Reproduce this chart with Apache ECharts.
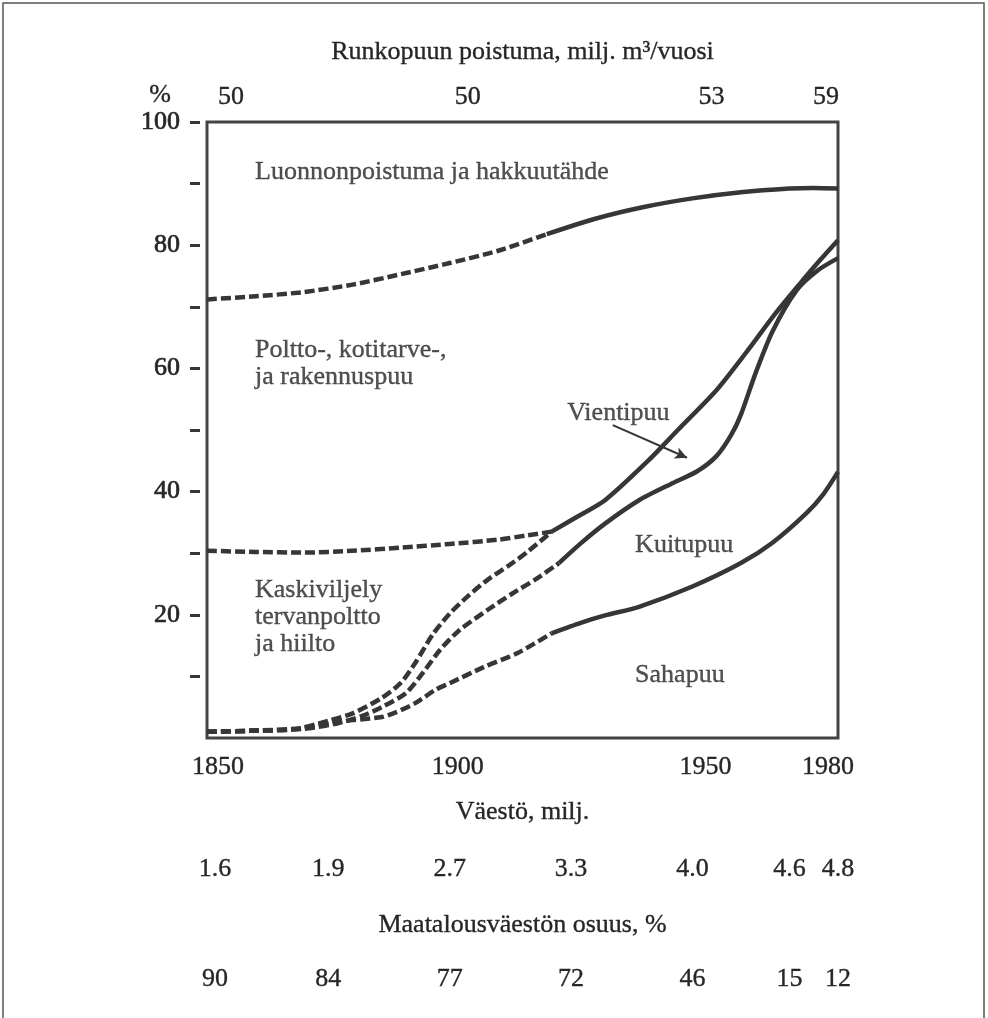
<!DOCTYPE html>
<html>
<head>
<meta charset="utf-8">
<script src="https://cdn.jsdelivr.net/npm/echarts@6/dist/echarts.min.js"></script>
<style>
  html, body { margin: 0; padding: 0; background: #fff; }
  #chart { width: 988px; height: 1018px; }
</style>
</head>
<body>
<div id="chart"></div>
<script>
// ---------- DATA ----------
const xTickYears = [1850, 1900, 1950, 1980];
const xTickLabels = ['1850', '1900', '1950', '1980'];
const runkoLabels = ['50', '50', '53', '59'];            // Runkopuun poistuma, milj. m3/vuosi
const popYears = [1850, 1875, 1900, 1925, 1950, 1970, 1980];
const popLabels = ['1.6', '1.9', '2.7', '3.3', '4.0', '4.6', '4.8'];   // Väestö, milj.
const agriLabels = ['90', '84', '77', '72', '46', '15', '12'];         // Maatalousväestön osuus, %
const yTickValues = [10, 20, 30, 40, 50, 60, 70, 80, 90, 100];
const yLabelValues = [20, 40, 60, 80, 100];

// boundary curves [year, %]
const luonnonRaja = [[1850,71.2],[1860,71.7],[1870,72.4],[1880,73.6],[1890,75.3],[1900,77.1],[1910,79.1],[1920,81.8],[1930,84.3],[1940,86.2],[1950,87.6],[1960,88.6],[1970,89.2],[1975,89.3],[1980,89.2]];
const luonnonSolidFrom = 1920;
const kaskiRaja = [[1850,30.4],[1860,30.2],[1870,30.1],[1880,30.4],[1890,30.9],[1900,31.5],[1910,32.2],[1916,32.9],[1921,33.5]];
const vientiRaja = [[1850,1.0],[1860,1.2],[1868,1.4],[1875,2.8],[1880,4.0],[1886,6.5],[1890,9.0],[1893,12.3],[1896.5,16.8],[1900,20.2],[1904,23.2],[1908,25.8],[1912,27.9],[1916,30.2],[1921,33.5],[1926,35.8],[1932,38.6],[1941,45.1],[1947,50.0],[1955,56.5],[1961,62.5],[1967,68.8],[1972,73.6],[1976,77.3],[1980,80.8]];
const vientiSolidFrom = 1921;
const kuituRaja = [[1850,1.0],[1860,1.2],[1870,1.5],[1877,2.4],[1882,3.6],[1886,5.0],[1891,7.3],[1894.5,10.6],[1898,14.3],[1902,17.5],[1908,20.9],[1913,23.5],[1918,25.9],[1922.5,28.4],[1927,31.6],[1932,34.8],[1939,38.6],[1946,41.4],[1951,43.3],[1955,45.8],[1958,49.2],[1960,52.5],[1963,59.2],[1966.5,66.0],[1971.5,72.7],[1976,76.0],[1980,77.9]];
const kuituSolidFrom = 1922.5;
const sahaRaja = [[1850,1.0],[1860,1.2],[1870,1.6],[1876,2.5],[1880,2.9],[1886,3.4],[1889,4.2],[1893,5.7],[1897,7.8],[1900,8.9],[1907,11.5],[1914,13.8],[1921,17.0],[1927,18.7],[1932,19.9],[1939,21.3],[1950,24.6],[1960,28.4],[1966.5,31.7],[1973.5,36.5],[1977,39.6],[1980,43.2]];
const sahaSolidFrom = 1921;

// region annotations [text, year, %]
const regionLabels = [
  ['Luonnonpoistuma ja hakkuutähde', 1859.9, 91.9],
  ['Poltto-, kotitarve-,\nja rakennuspuu', 1859.9, 60.8],
  ['Vientipuu', 1924.2, 52.8],
  ['Kaskiviljely\ntervanpoltto\nja hiilto', 1859.9, 19.6],
  ['Kuitupuu', 1938.2, 31.3],
  ['Sahapuu', 1938.2, 10.2]
];
const vientiArrow = [[1933.6, 50.8], [1948.9, 45.5]];

// ---------- STYLE ----------
const FONT = "'Liberation Serif', 'Times New Roman', serif";
const FS = 26;
const INK = '#363636';
const TXT = '#262626';
const bottomShift = {1850: 11, 1900: 8, 1950: 13, 1980: -10};
const topShift = {1850: 24, 1900: 18, 1950: 19, 1980: -12};
const rowShift = {1850: 8};

const baseText = { fontFamily: FONT, fontSize: FS, color: TXT, textBorderColor: TXT, textBorderWidth: 0.35 };

function richFor(shifts) {
  const r = {};
  Object.keys(shifts).forEach(k => {
    const dx = shifts[k];
    r['s' + k] = Object.assign({
      padding: dx > 0 ? [0, 0, 0, 2 * dx] : [0, -2 * dx, 0, 0]
    }, baseText);
  });
  return r;
}
function labeller(years, labels, shifts) {
  return function (v) {
    const i = years.indexOf(v);
    const t = i >= 0 ? labels[i] : '';
    return shifts[v] ? '{s' + v + '|' + t + '}' : t;
  };
}
function seg(data, split, solid) {
  return solid ? data.filter(d => d[0] >= split) : data.filter(d => d[0] <= split);
}
function lineSeries(data, dashed) {
  return {
    type: 'line', xAxisIndex: 0, yAxisIndex: 0, data: data,
    smooth: 0.25, showSymbol: false, symbol: 'none',
    silent: true, z: 3,
    lineStyle: { color: INK, width: 4.5, type: dashed ? [10, 4] : 'solid', cap: 'butt', join: 'round' }
  };
}

const option = {
  backgroundColor: '#fff',
  animation: false,
  grid: {
    left: 207, right: 150, top: 122, bottom: 280,
    containLabel: false, outerBoundsMode: 'none',
    show: true, borderColor: '#444', borderWidth: 3, backgroundColor: 'transparent'
  },
  xAxis: [
    { // bottom years
      type: 'value', min: 1850, max: 1980, position: 'bottom',
      axisLine: { show: false }, axisTick: { show: false }, splitLine: { show: false },
      axisLabel: Object.assign({ customValues: xTickYears, margin: 16,
        formatter: labeller(xTickYears, xTickLabels, bottomShift), rich: richFor(bottomShift) }, baseText),
      name: 'Väestö, milj.', nameLocation: 'middle', nameGap: 61, nameTextStyle: baseText
    },
    { // population row
      type: 'value', min: 1850, max: 1980, position: 'bottom', offset: 100,
      axisLine: { show: false }, axisTick: { show: false }, splitLine: { show: false },
      axisLabel: Object.assign({ customValues: popYears, margin: 18,
        formatter: labeller(popYears, popLabels, rowShift), rich: richFor(rowShift) }, baseText),
      name: 'Maatalousväestön osuus, %', nameLocation: 'middle', nameGap: 74, nameTextStyle: baseText
    },
    { // agricultural share row
      type: 'value', min: 1850, max: 1980, position: 'bottom', offset: 210,
      axisLine: { show: false }, axisTick: { show: false }, splitLine: { show: false },
      axisLabel: Object.assign({ customValues: popYears, margin: 18,
        formatter: labeller(popYears, agriLabels, rowShift), rich: richFor(rowShift) }, baseText)
    },
    { // top: Runkopuun poistuma
      type: 'value', min: 1850, max: 1980, position: 'top',
      axisLine: { show: false }, axisTick: { show: false }, splitLine: { show: false },
      axisLabel: Object.assign({ customValues: xTickYears, margin: 12,
        formatter: labeller(xTickYears, runkoLabels, topShift), rich: richFor(topShift) }, baseText),
      name: 'Runkopuun poistuma, milj. m³/vuosi', nameLocation: 'middle', nameGap: 57, nameTextStyle: baseText
    }
  ],
  yAxis: [{
    type: 'value', min: 0, max: 100, position: 'left', offset: 7,
    axisLine: { show: false }, splitLine: { show: false },
    axisTick: { show: true, customValues: yTickValues, length: 10, inside: false,
      lineStyle: { color: INK, width: 3 } },
    axisLabel: Object.assign({ customValues: yLabelValues, margin: 20 }, baseText, { textBorderWidth: 0.7 }),
    name: '%', nameLocation: 'end', nameGap: 14,
    nameTextStyle: Object.assign({ padding: [0, 80, 0, 0] }, baseText)
  }],
  series: [
    lineSeries(seg(luonnonRaja, luonnonSolidFrom, false), true),
    lineSeries(seg(luonnonRaja, luonnonSolidFrom, true), false),
    lineSeries(kaskiRaja, true),
    lineSeries(seg(vientiRaja, vientiSolidFrom, false), true),
    lineSeries(seg(vientiRaja, vientiSolidFrom, true), false),
    lineSeries(seg(kuituRaja, kuituSolidFrom, false), true),
    lineSeries(seg(kuituRaja, kuituSolidFrom, true), false),
    lineSeries(seg(sahaRaja, sahaSolidFrom, false), true),
    lineSeries(seg(sahaRaja, sahaSolidFrom, true), false),
    {
      type: 'scatter', xAxisIndex: 0, yAxisIndex: 0, symbolSize: 0, silent: true, z: 4,
      data: regionLabels.map(r => ({ value: [r[1], r[2]], name: r[0] })),
      label: Object.assign({
        show: true, position: 'right', distance: 0, formatter: p => p.name,
        lineHeight: 27, align: 'left'
      }, baseText),
      markLine: {
        silent: true, symbol: ['none', 'arrow'], symbolSize: [9, 12],
        label: { show: false },
        lineStyle: { color: INK, width: 2, type: 'solid' },
        data: [[{ coord: vientiArrow[0] }, { coord: vientiArrow[1] }]]
      }
    }
  ],
  graphic: [{
    type: 'rect', silent: true, z: -1,
    shape: { x: 3, y: 3, width: 981, height: 1040 },
    style: { fill: 'none', stroke: '#555', lineWidth: 1.5 }
  }]
};

const chart = echarts.init(document.getElementById('chart'), null, { renderer: 'canvas' });
chart.setOption(option);
</script>
</body>
</html>
